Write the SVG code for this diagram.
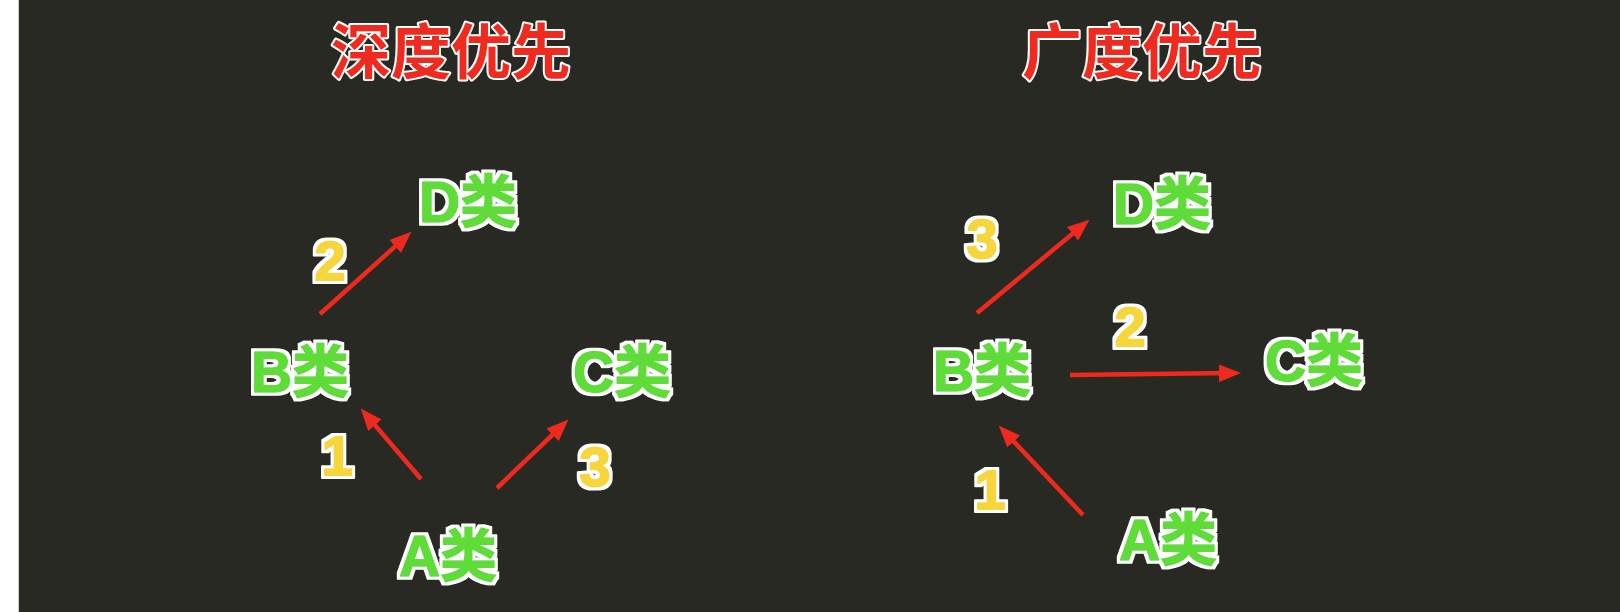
<svg xmlns="http://www.w3.org/2000/svg" width="1620" height="612" viewBox="0 0 1620 612">
<defs>
<style>
.title{font-family:"Noto Sans CJK SC","Liberation Sans",sans-serif;font-weight:bold;font-size:60px;fill:#ef2a1f;stroke:#ffffff;stroke-width:4;paint-order:stroke;stroke-linejoin:round;text-anchor:middle}
.node{font-family:"Liberation Sans","Noto Sans CJK SC",sans-serif;font-weight:bold;font-size:57px;fill:#5fdc38;stroke:#5fdc38;stroke-width:1.5;stroke-linejoin:round;text-anchor:middle;filter:url(#outline)}
.num{font-family:"Liberation Sans",sans-serif;font-weight:bold;font-size:56px;fill:#f7d63a;stroke:#f7d63a;stroke-width:2;stroke-linejoin:round;text-anchor:middle;filter:url(#outline)}
.edge{stroke:#ee2a1f;stroke-width:4.5;fill:none;marker-end:url(#ah)}
</style>
<filter id="outline" filterUnits="userSpaceOnUse" x="0" y="0" width="1620" height="612">
<feMorphology in="SourceAlpha" operator="dilate" radius="3" result="d"/>
<feGaussianBlur in="d" stdDeviation="0.6" result="db"/>
<feFlood flood-color="#ffffff"/>
<feComposite in2="db" operator="in" result="o"/>
<feMerge><feMergeNode in="o"/><feMergeNode in="SourceGraphic"/></feMerge>
</filter>
<marker id="ah" markerUnits="userSpaceOnUse" markerWidth="22" markerHeight="18" refX="10" refY="8" orient="auto" viewBox="0 0 20 16">
<path d="M0,0 L20,8 L0,16 z" fill="#ee2a1f"/>
</marker>
</defs>
<rect x="0" y="0" width="1620" height="612" fill="#ffffff"/>
<rect x="19" y="0" width="1601" height="612" fill="#292924"/>
<line x1="18.5" y1="0" x2="18.5" y2="612" stroke="#c8c8c8" stroke-width="1"/>
<text class="title" x="451" y="74">深度优先</text>
<text class="title" x="1142" y="74">广度优先</text>
<g id="connectors">
<line class="edge" x1="320" y1="314" x2="403.3" y2="239.1"/>
<line class="edge" x1="421" y1="479" x2="367.8" y2="416.8"/>
<line class="edge" x1="497" y1="488" x2="560.5" y2="427.2"/>
<line class="edge" x1="977" y1="313" x2="1081" y2="226.7"/>
<line class="edge" x1="1070" y1="375" x2="1230" y2="373.1"/>
<line class="edge" x1="1083" y1="515" x2="1006.2" y2="433.5"/>
</g>
<g id="labels">
<text class="num" x="330" y="280">2</text>
<text class="num" x="337" y="475">1</text>
<text class="num" x="595" y="486">3</text>
<text class="num" x="982" y="258">3</text>
<text class="num" x="1130" y="346">2</text>
<text class="num" x="990" y="509">1</text>
</g>
<g id="dfs-D"><text class="node" x="468" y="222">D类</text></g>
<g id="dfs-B"><text class="node" x="300" y="392">B类</text></g>
<g id="dfs-C"><text class="node" x="622" y="392">C类</text></g>
<g id="dfs-A"><text class="node" x="448" y="576">A类</text></g>
<g id="bfs-D"><text class="node" x="1162" y="224">D类</text></g>
<g id="bfs-B"><text class="node" x="982" y="391">B类</text></g>
<g id="bfs-C"><text class="node" x="1314" y="381">C类</text></g>
<g id="bfs-A"><text class="node" x="1168" y="560">A类</text></g>
</svg>
